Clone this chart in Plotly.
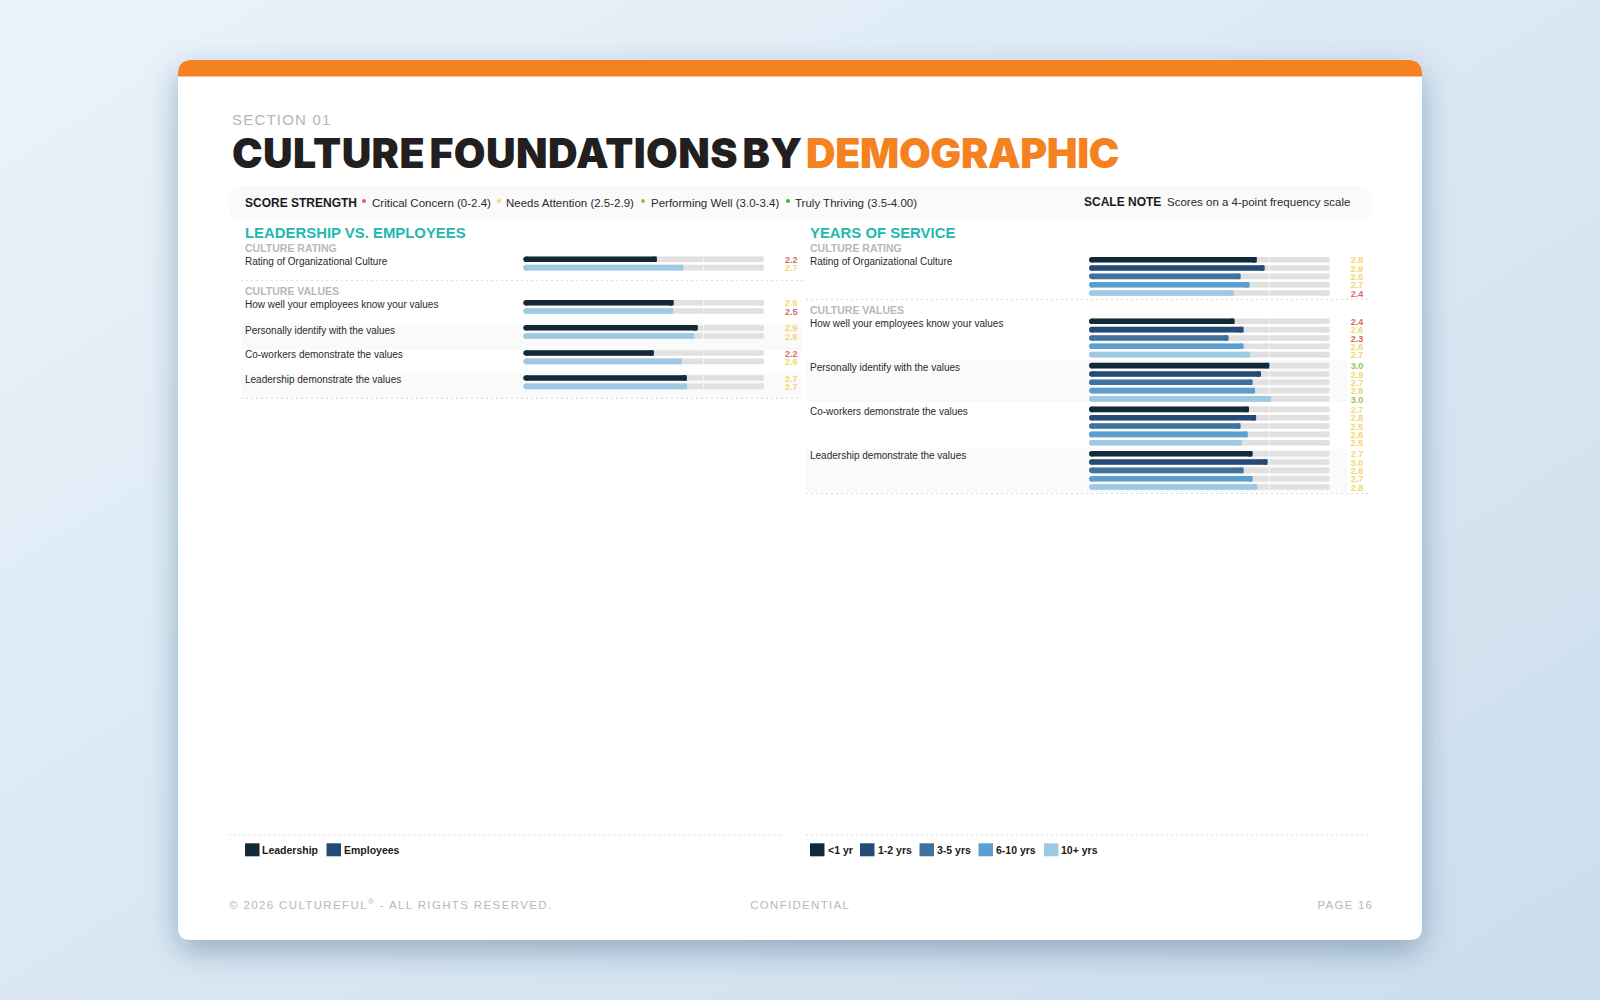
import base64, json
import plotly.graph_objects as go

# ---------- data ----------
leader_metrics = ["Rating of Organizational Culture", "How well your employees know your values",
                  "Personally identify with the values", "Co-workers demonstrate the values",
                  "Leadership demonstrate the values"]
leadership = [2.22, 2.50, 2.90, 2.17, 2.72]
employees = [2.66, 2.49, 2.84, 2.64, 2.72]
yrs_lt1 = [2.79, 2.42, 3.00, 2.66, 2.72]
yrs_1_2 = [2.92, 2.57, 2.86, 2.78, 2.97]
yrs_3_5 = [2.52, 2.32, 2.72, 2.52, 2.57]
yrs_6_10 = [2.67, 2.57, 2.76, 2.64, 2.72]
yrs_10p = [2.41, 2.68, 3.03, 2.54, 2.80]
left_names = ["Leadership", "Employees"]
right_names = ["<1 yr", "1-2 yrs", "3-5 yrs", "6-10 yrs", "10+ yrs"]
legend_colors = ["#12293a", "#254a75", "#3f729f", "#5a9fcf", "#9dc9e3"]
left_bar_colors = ["#12293a", "#9dc9e3"]
scale_max = 4

W, H = 1600, 1000
FONT = "Liberation Sans"
TRACK = "#e0e0e0"

# ---------- layout geometry (pixels) ----------
L_X0, R_X0 = 523.3, 1089.0
PX_PER_UNIT = 60.1
AXIS_MAX = 4.6
L_ROW_Y = [259.3, 302.7, 327.7, 353.0, 378.0]
R_ROW_Y = [259.7, 321.3, 365.6, 409.4, 453.7]
STEP = 8.33
BAR_H = 5.6
CAP = BAR_H / 2 / PX_PER_UNIT   # rounded end, in axis units
LABEL_X = 4.46


def fx(x): return x / W
def fy(y): return 1 - y / H


def rpath(x0, y0, x1, y1, rt, rb):
    def P(x, y): return f"{fx(x):.6f},{fy(y):.6f}"
    return (f"M{P(x0 + rt, y0)} L{P(x1 - rt, y0)} Q{P(x1, y0)} {P(x1, y0 + rt)} "
            f"L{P(x1, y1 - rb)} Q{P(x1, y1)} {P(x1 - rb, y1)} L{P(x0 + rb, y1)} "
            f"Q{P(x0, y1)} {P(x0, y1 - rb)} L{P(x0, y0 + rt)} Q{P(x0, y0)} {P(x0 + rt, y0)} Z")


def score_color(v):
    if v < 2.5: return "#d9666b"
    if v < 3.0: return "#f2d76a"
    if v < 3.5: return "#93c45f"
    return "#3cb44a"


fig = go.Figure()
annotations, shapes = [], []
spacing = {}


def text(x, y, s, size, color, bold=False, anchor="left", family=FONT, weight=None, ls=None, ws=0):
    annotations.append(dict(x=fx(x), y=fy(y), xref="paper", yref="paper", text=s, showarrow=False,
                            xanchor=anchor, yanchor="middle", borderpad=0, borderwidth=0, align=anchor,
                            font=dict(family=family, size=size, color=color,
                                      weight=weight if weight else (700 if bold else 400))))
    if ls is not None:
        spacing[s.replace("<sup>", "").replace("</sup>", "")] = [ls, anchor, ws]


def pill(vals, ys, color, name, xa, ya):
    """One bar series with round ends: the bar runs between two round caps of the same colour."""
    fig.add_trace(go.Bar(x=[v - CAP for v in vals], base=CAP, y=ys, orientation="h", width=BAR_H, name=name,
                         customdata=vals, hovertemplate="%{customdata:.2f}<extra>" + name + "</extra>",
                         marker=dict(color=color, line=dict(width=0)), xaxis=xa, yaxis=ya, showlegend=False))
    cx = [CAP] * len(vals) + [v - CAP for v in vals]
    fig.add_trace(go.Scatter(x=cx, y=list(ys) * 2, mode="markers", xaxis=xa, yaxis=ya, showlegend=False,
                             hoverinfo="skip", cliponaxis=False,
                             marker=dict(color=color, size=BAR_H, line=dict(width=0))))


def panel(idx, x0, row_y, series, colors, names):
    base = 2 * idx - 1
    tx, ty = f"x{base if base > 1 else ''}", f"y{base if base > 1 else ''}"
    fxa, fya = f"x{base + 1}", f"y{base + 1}"
    n = len(series)
    ys = [[ry + STEP * j for ry in row_y] for j in range(n)]
    flat_y = [y for col in ys for y in col]
    pill([scale_max] * len(flat_y), flat_y, TRACK, "track", tx, ty)
    lx, ly = [], []
    for y in flat_y:
        lx += [3, 3, None]
        ly += [y - BAR_H / 2, y + BAR_H / 2, None]
    fig.add_trace(go.Scatter(x=lx, y=ly, mode="lines", line=dict(color="white", width=0.7), xaxis=tx, yaxis=ty,
                             showlegend=False, hoverinfo="skip"))
    for j, vals in enumerate(series):
        pill(vals, ys[j], colors[j], names[j], fxa, fya)
    flat_v = [v for vals in series for v in vals]
    fig.add_trace(go.Scatter(x=[LABEL_X] * len(flat_v), y=[y + 1.5 for y in flat_y], mode="text",
                             text=[f"{v:.1f}" for v in flat_v], cliponaxis=False,
                             textfont=dict(family=FONT, size=9, color=[score_color(v) for v in flat_v], weight=700),
                             textposition="middle center", xaxis=fxa, yaxis=fya, showlegend=False, hoverinfo="skip"))
    d = [fx(x0), fx(x0 + PX_PER_UNIT * AXIS_MAX)]
    ax = dict(domain=d, range=[0, AXIS_MAX], visible=False, fixedrange=True)
    ay = dict(domain=[0, 1], range=[H, 0], visible=False, fixedrange=True)
    return {
        f"xaxis{base if base > 1 else ''}": dict(ax, anchor=ty),
        f"yaxis{base if base > 1 else ''}": dict(ay, anchor=tx),
        f"xaxis{base + 1}": dict(ax, anchor=fya, overlaying=tx),
        f"yaxis{base + 1}": dict(ay, anchor=fxa, overlaying=ty),
    }


axes = {}
axes.update(panel(1, L_X0, L_ROW_Y, [leadership, employees], left_bar_colors, left_names))
axes.update(panel(2, R_X0, R_ROW_Y, [yrs_lt1, yrs_1_2, yrs_3_5, yrs_6_10, yrs_10p], legend_colors, right_names))


def rect(x0, y0, x1, y1, color):
    shapes.append(dict(type="rect", xref="paper", yref="paper", x0=fx(x0), x1=fx(x1), y0=fy(y0), y1=fy(y1),
                       fillcolor=color, line=dict(width=0), layer="below"))


def dash(x0, x1, y):
    shapes.append(dict(type="line", xref="paper", yref="paper", x0=fx(x0), x1=fx(x1), y0=fy(y), y1=fy(y),
                       line=dict(color="#d9d9d9", width=1, dash="2px,3px"), layer="below"))


# card
shapes.append(dict(type="path", xref="paper", yref="paper", path=rpath(178, 60, 1422, 940, 14, 12),
                   fillcolor="white", line=dict(width=0), layer="below"))
shapes.append(dict(type="path", xref="paper", yref="paper", path=rpath(178, 60, 1422, 76.5, 14, 0),
                   fillcolor="#f58220", line=dict(width=0), layer="below"))
# strip
shapes.append(dict(type="path", xref="paper", yref="paper", path=rpath(228.6, 186, 1371.5, 218.5, 11, 11),
                   fillcolor="#fafafa", line=dict(width=0), layer="below"))
# row bands
rect(241, 322.7, 802, 350, "#fafafa")
rect(241, 373, 802, 398, "#fafafa")
rect(806, 360, 1347, 402, "#fafafa")
rect(806, 449, 1347, 492, "#fafafa")
dash(241, 805, 280.3)
dash(241, 805, 398.3)
dash(806, 1371, 299.3)
dash(806, 1371, 493.5)
dash(228.6, 784, 835)
dash(806, 1371, 835)

# header
text(232, 119, "SECTION 01", 15, "#b5b5b5", ls=1.2)
TITLE_FONT = "Inter"
text(231.6, 153, "CULTURE FOUNDATIONS BY", 41, "#231f20", family=TITLE_FONT, weight=900, ls=0.4, ws=-4)
text(806, 153, "DEMOGRAPHIC", 41, "#f58220", family=TITLE_FONT, weight=900, ls=-0.35)

# score strip
DARK = "#1a1a1a"
BODY = "#2a2a2a"
text(245, 203, "SCORE STRENGTH", 12, DARK, bold=True)
items = [("Critical Concern (0-2.4)", 371.5, 364, "#e0605f"),
         ("Needs Attention (2.5-2.9)", 506, 499, "#f5d76e"),
         ("Performing Well (3.0-3.4)", 651, 643, "#8cc63f"),
         ("Truly Thriving (3.5-4.00)", 795, 788, "#3cb44a")]
for label, tx_, dx, col in items:
    text(tx_, 203, label, 11.5, BODY)
    shapes.append(dict(type="circle", xref="paper", yref="paper", x0=fx(dx - 2), x1=fx(dx + 2), y0=fy(199), y1=fy(203),
                       fillcolor=col, line=dict(width=0), layer="below"))
text(1084, 201.5, "SCALE NOTE", 12, DARK, bold=True)
text(1166.5, 201.5, "Scores on a 4-point frequency scale", 11.5, BODY)

# panel headings
TEAL = "#22b8b0"
GREY = "#b8b8b8"
text(245, 232.5, "LEADERSHIP VS. EMPLOYEES", 14.9, TEAL, bold=True)
text(810, 232.5, "YEARS OF SERVICE", 14.9, TEAL, bold=True)
text(245, 248, "CULTURE RATING", 10.5, GREY, bold=True)
text(810, 248, "CULTURE RATING", 10.5, GREY, bold=True)
text(245, 291, "CULTURE VALUES", 10.5, GREY, bold=True)
text(810, 310, "CULTURE VALUES", 10.5, GREY, bold=True)
for m, ly, ry in zip(leader_metrics, [261, 304, 330, 354.3, 379.5], [261, 323.7, 367, 411, 455]):
    text(245, ly, m, 10, BODY)
    text(810, ry, m, 10, BODY)

# legends
for name, col, sx, tx_ in zip(left_names, legend_colors, [245, 326.5], [262, 344]):
    rect(sx, 843.3, sx + 14.5, 856.3, col)
    text(tx_, 850, name, 10.5, DARK, bold=True)
for name, col, sx, tx_ in zip(right_names, legend_colors, [810, 860, 919.5, 978.5, 1044], [827.5, 877.5, 937, 996, 1061]):
    rect(sx, 843.3, sx + 14.5, 856.3, col)
    text(tx_, 850, name, 10.5, DARK, bold=True)

# footer
text(228.6, 904.3, "© 2026 CULTUREFUL<sup>®</sup> - ALL RIGHTS RESERVED.", 11.5, GREY, ls=1.37)
text(800, 905, "CONFIDENTIAL", 11.5, GREY, anchor="center", ls=1.3)
text(1372.5, 905, "PAGE 16", 11.5, GREY, anchor="right", ls=1.2)

svg = f'''<svg xmlns="http://www.w3.org/2000/svg" width="{W}" height="{H}" viewBox="0 0 {W} {H}">
<defs><linearGradient id="g" x1="0" y1="0" x2="1" y2="1"><stop offset="0" stop-color="#eaf3fa"/><stop offset="1" stop-color="#cbddec"/></linearGradient>
<filter id="b" x="-20%" y="-20%" width="140%" height="140%"><feGaussianBlur stdDeviation="15"/></filter></defs>
<rect width="{W}" height="{H}" fill="url(#g)"/>
<rect x="178" y="72" width="1244" height="878" rx="14" fill="#1e3c64" fill-opacity="0.36" filter="url(#b)"/>
</svg>'''
bg = "data:image/svg+xml;base64," + base64.b64encode(svg.encode()).decode()

fig.update_layout(
    width=W, height=H, autosize=False, margin=dict(l=0, r=0, t=0, b=0, pad=0),
    paper_bgcolor="rgba(0,0,0,0)", plot_bgcolor="rgba(0,0,0,0)",
    barmode="overlay", showlegend=False,
    annotations=annotations, shapes=shapes,
    images=[dict(source=bg, xref="paper", yref="paper", x=0, y=1, sizex=1, sizey=1, sizing="stretch",
                 xanchor="left", yanchor="top", layer="below")],
    **axes,
)

post = """
document.body.style.margin='0';
document.documentElement.style.overflow='hidden';
var SP = %s;
document.querySelectorAll('text.annotation-text').forEach(function(el){
  var k = el.textContent.replace(/\\u200b/g,''), s = SP[k];
  if(!s) return;
  var bb = el.getBBox();
  el.style.letterSpacing = s[0] + 'px';
  if(s[2]) el.style.wordSpacing = s[2] + 'px';
  if(s[1]==='left'){ el.setAttribute('text-anchor','start'); el.setAttribute('x', bb.x); }
  else if(s[1]==='right'){ el.setAttribute('text-anchor','end'); el.setAttribute('x', bb.x+bb.width); }
});
""" % json.dumps(spacing)

fig.write_html("out.html", post_script=post, config={"displayModeBar": False})
